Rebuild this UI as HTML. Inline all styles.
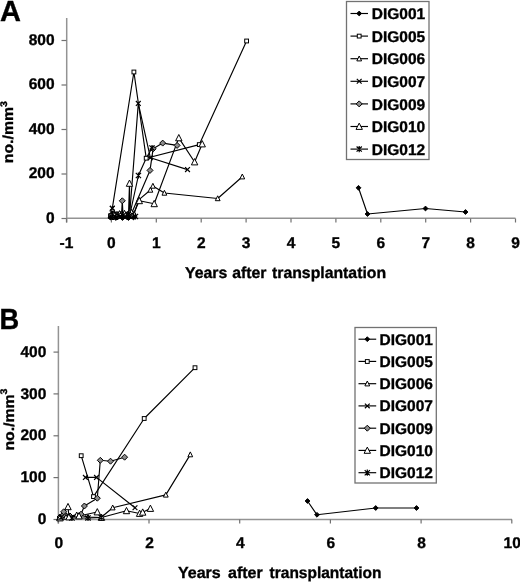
<!DOCTYPE html>
<html><head><meta charset="utf-8"><title>Figure</title>
<style>
html,body{margin:0;padding:0;background:#fff;}
body{width:520px;height:582px;overflow:hidden;}
svg text{stroke:#000;stroke-width:0.35px;}
svg{display:block;text-rendering:geometricPrecision;filter:grayscale(1) blur(0.3px);font-family:"Liberation Sans",sans-serif;font-weight:bold;}
</style></head><body>
<svg width="520" height="582" viewBox="0 0 520 582">
<path d="M66.7 18V222.5M66.7 218.3H515.5" stroke="#939393" stroke-width="1.5" fill="none"/>
<path d="M61.5 218.5H66.5" stroke="#707070" stroke-width="1.2"/>
<text x="54.6" y="222.6" font-size="15.5" text-anchor="end" >0</text>
<path d="M61.5 174.0H66.5" stroke="#707070" stroke-width="1.2"/>
<text x="54.6" y="178.1" font-size="15.5" text-anchor="end" >200</text>
<path d="M61.5 129.5H66.5" stroke="#707070" stroke-width="1.2"/>
<text x="54.6" y="133.6" font-size="15.5" text-anchor="end" >400</text>
<path d="M61.5 85.0H66.5" stroke="#707070" stroke-width="1.2"/>
<text x="54.6" y="89.1" font-size="15.5" text-anchor="end" >600</text>
<path d="M61.5 40.5H66.5" stroke="#707070" stroke-width="1.2"/>
<text x="54.6" y="44.6" font-size="15.5" text-anchor="end" >800</text>
<path d="M66.5 218.5V222.5" stroke="#707070" stroke-width="1.2"/>
<text x="66.5" y="247.8" font-size="15.5" text-anchor="middle" >-1</text>
<path d="M111.4 218.5V222.5" stroke="#707070" stroke-width="1.2"/>
<text x="111.4" y="247.8" font-size="15.5" text-anchor="middle" >0</text>
<path d="M156.3 218.5V222.5" stroke="#707070" stroke-width="1.2"/>
<text x="156.3" y="247.8" font-size="15.5" text-anchor="middle" >1</text>
<path d="M201.2 218.5V222.5" stroke="#707070" stroke-width="1.2"/>
<text x="201.2" y="247.8" font-size="15.5" text-anchor="middle" >2</text>
<path d="M246.1 218.5V222.5" stroke="#707070" stroke-width="1.2"/>
<text x="246.1" y="247.8" font-size="15.5" text-anchor="middle" >3</text>
<path d="M291.0 218.5V222.5" stroke="#707070" stroke-width="1.2"/>
<text x="291.0" y="247.8" font-size="15.5" text-anchor="middle" >4</text>
<path d="M335.9 218.5V222.5" stroke="#707070" stroke-width="1.2"/>
<text x="335.9" y="247.8" font-size="15.5" text-anchor="middle" >5</text>
<path d="M380.8 218.5V222.5" stroke="#707070" stroke-width="1.2"/>
<text x="380.8" y="247.8" font-size="15.5" text-anchor="middle" >6</text>
<path d="M425.7 218.5V222.5" stroke="#707070" stroke-width="1.2"/>
<text x="425.7" y="247.8" font-size="15.5" text-anchor="middle" >7</text>
<path d="M470.6 218.5V222.5" stroke="#707070" stroke-width="1.2"/>
<text x="470.6" y="247.8" font-size="15.5" text-anchor="middle" >8</text>
<path d="M515.5 218.5V222.5" stroke="#707070" stroke-width="1.2"/>
<text x="515.5" y="247.8" font-size="15.5" text-anchor="middle" >9</text>
<text x="0" y="21" font-size="29" text-anchor="start" >A</text>
<text x="185" y="277.8" font-size="15.8" text-anchor="start" >Years</text>
<text x="232.2" y="277.8" font-size="15.8" text-anchor="start" >after</text>
<text x="272" y="277.8" font-size="15.8" text-anchor="start" >transplantation</text>
<text transform="translate(13.3,163.2) rotate(-90) scale(1,0.92)" font-size="15.8">no./mm<tspan font-size="10.5" dy="-6.6">3</tspan></text>
<path d="M358.5 187.8 L367.5 214.0 L425.5 208.5 L465.5 212.0" fill="none" stroke="#000" stroke-width="1.15" stroke-linejoin="round"/>
<path d="M110.5 216.5 L112.3 208.3 L133.9 72.0 L146.2 158.2 L199.3 144.6 L246.6 41.0" fill="none" stroke="#000" stroke-width="1.15" stroke-linejoin="round"/>
<path d="M112.0 217.0 L118.0 216.0 L124.0 215.5 L128.0 216.0 L133.9 214.2 L138.7 199.9 L150.4 190.0 L152.9 186.0 L164.4 193.0 L217.7 198.5 L242.3 176.7" fill="none" stroke="#000" stroke-width="1.15" stroke-linejoin="round"/>
<path d="M111.0 216.0 L120.0 216.5 L129.7 214.0 L138.3 103.4 L150.4 157.8 L187.5 169.6" fill="none" stroke="#000" stroke-width="1.15" stroke-linejoin="round"/>
<path d="M113.0 217.0 L121.5 215.0 L122.3 200.8 L123.0 215.0 L127.0 216.0 L131.5 213.5 L150.0 170.4 L153.1 148.8 L162.7 143.1 L177.1 145.4" fill="none" stroke="#000" stroke-width="1.15" stroke-linejoin="round"/>
<path d="M115.0 216.0 L121.0 214.5 L128.5 215.0 L129.5 183.4 L129.8 213.0 L133.0 215.0 L139.3 200.8 L154.2 203.8 L178.8 137.9 L194.6 162.0 L202.2 144.0" fill="none" stroke="#000" stroke-width="1.15" stroke-linejoin="round"/>
<path d="M113.0 216.5 L117.0 214.0 L125.0 215.5 L130.0 214.0 L138.4 175.5 L146.2 158.2 L152.0 148.0" fill="none" stroke="#000" stroke-width="1.15" stroke-linejoin="round"/>
<path d="M358.5 185.4L360.9 187.8L358.5 190.2L356.1 187.8Z" fill="#000" stroke="#000" stroke-width="1"/>
<path d="M367.5 211.6L369.9 214.0L367.5 216.4L365.1 214.0Z" fill="#000" stroke="#000" stroke-width="1"/>
<path d="M425.5 206.1L427.9 208.5L425.5 210.9L423.1 208.5Z" fill="#000" stroke="#000" stroke-width="1"/>
<path d="M465.5 209.6L467.9 212.0L465.5 214.4L463.1 212.0Z" fill="#000" stroke="#000" stroke-width="1"/>
<rect x="108.6" y="214.6" width="3.8" height="3.8" fill="#fff" stroke="#000" stroke-width="1"/>
<path d="M109.9 205.9L114.7 210.7M114.7 205.9L109.9 210.7" stroke="#000" stroke-width="1.2"/>
<rect x="132.0" y="70.1" width="3.8" height="3.8" fill="#fff" stroke="#000" stroke-width="1"/>
<rect x="144.3" y="156.3" width="3.8" height="3.8" fill="#fff" stroke="#000" stroke-width="1"/>
<rect x="197.4" y="142.7" width="3.8" height="3.8" fill="#fff" stroke="#000" stroke-width="1"/>
<rect x="244.7" y="39.1" width="3.8" height="3.8" fill="#fff" stroke="#000" stroke-width="1"/>
<path d="M112.0 214.3L114.4 219.2L109.6 219.2Z" fill="#fff" stroke="#000" stroke-width="1"/>
<path d="M118.0 213.3L120.4 218.2L115.6 218.2Z" fill="#fff" stroke="#000" stroke-width="1"/>
<path d="M124.0 212.8L126.4 217.7L121.6 217.7Z" fill="#fff" stroke="#000" stroke-width="1"/>
<path d="M128.0 213.3L130.4 218.2L125.6 218.2Z" fill="#fff" stroke="#000" stroke-width="1"/>
<path d="M133.9 211.5L136.3 216.4L131.5 216.4Z" fill="#fff" stroke="#000" stroke-width="1"/>
<path d="M138.7 197.2L141.1 202.1L136.3 202.1Z" fill="#fff" stroke="#000" stroke-width="1"/>
<path d="M150.4 187.3L152.8 192.2L148.0 192.2Z" fill="#fff" stroke="#000" stroke-width="1"/>
<path d="M152.9 183.3L155.3 188.2L150.5 188.2Z" fill="#fff" stroke="#000" stroke-width="1"/>
<path d="M164.4 190.3L166.8 195.2L162.0 195.2Z" fill="#fff" stroke="#000" stroke-width="1"/>
<path d="M217.7 195.8L220.1 200.7L215.3 200.7Z" fill="#fff" stroke="#000" stroke-width="1"/>
<path d="M242.3 174.0L244.7 178.9L239.9 178.9Z" fill="#fff" stroke="#000" stroke-width="1"/>
<path d="M108.6 213.6L113.4 218.4M113.4 213.6L108.6 218.4" stroke="#000" stroke-width="1.2"/>
<path d="M117.6 214.1L122.4 218.9M122.4 214.1L117.6 218.9" stroke="#000" stroke-width="1.2"/>
<path d="M127.3 211.6L132.1 216.4M132.1 211.6L127.3 216.4" stroke="#000" stroke-width="1.2"/>
<path d="M135.9 101.0L140.7 105.8M140.7 101.0L135.9 105.8" stroke="#000" stroke-width="1.2"/>
<path d="M148.0 155.4L152.8 160.2M152.8 155.4L148.0 160.2" stroke="#000" stroke-width="1.2"/>
<path d="M185.1 167.2L189.9 172.0M189.9 167.2L185.1 172.0" stroke="#000" stroke-width="1.2"/>
<path d="M113.0 214.0L116.0 217.0L113.0 220.0L110.0 217.0Z" fill="#8c8c8c" stroke="#000" stroke-width="1"/>
<path d="M121.5 212.0L124.5 215.0L121.5 218.0L118.5 215.0Z" fill="#8c8c8c" stroke="#000" stroke-width="1"/>
<path d="M122.3 197.8L125.3 200.8L122.3 203.8L119.3 200.8Z" fill="#8c8c8c" stroke="#000" stroke-width="1"/>
<path d="M123.0 212.0L126.0 215.0L123.0 218.0L120.0 215.0Z" fill="#8c8c8c" stroke="#000" stroke-width="1"/>
<path d="M127.0 213.0L130.0 216.0L127.0 219.0L124.0 216.0Z" fill="#8c8c8c" stroke="#000" stroke-width="1"/>
<path d="M131.5 210.5L134.5 213.5L131.5 216.5L128.5 213.5Z" fill="#8c8c8c" stroke="#000" stroke-width="1"/>
<path d="M150.0 167.4L153.0 170.4L150.0 173.4L147.0 170.4Z" fill="#8c8c8c" stroke="#000" stroke-width="1"/>
<path d="M153.1 145.8L156.1 148.8L153.1 151.8L150.1 148.8Z" fill="#8c8c8c" stroke="#000" stroke-width="1"/>
<path d="M162.7 140.1L165.7 143.1L162.7 146.1L159.7 143.1Z" fill="#8c8c8c" stroke="#000" stroke-width="1"/>
<path d="M177.1 142.4L180.1 145.4L177.1 148.4L174.1 145.4Z" fill="#8c8c8c" stroke="#000" stroke-width="1"/>
<path d="M115.0 212.6L118.2 218.9L111.8 218.9Z" fill="#fff" stroke="#000" stroke-width="1"/>
<path d="M121.0 211.1L124.2 217.4L117.8 217.4Z" fill="#fff" stroke="#000" stroke-width="1"/>
<path d="M128.5 211.6L131.7 217.9L125.3 217.9Z" fill="#fff" stroke="#000" stroke-width="1"/>
<path d="M129.5 180.0L132.7 186.3L126.3 186.3Z" fill="#fff" stroke="#000" stroke-width="1"/>
<path d="M129.8 209.6L133.0 215.9L126.6 215.9Z" fill="#fff" stroke="#000" stroke-width="1"/>
<path d="M133.0 211.6L136.2 217.9L129.8 217.9Z" fill="#fff" stroke="#000" stroke-width="1"/>
<path d="M139.3 197.4L142.5 203.7L136.1 203.7Z" fill="#fff" stroke="#000" stroke-width="1"/>
<path d="M154.2 200.4L157.4 206.7L151.0 206.7Z" fill="#fff" stroke="#000" stroke-width="1"/>
<path d="M178.8 134.5L182.0 140.8L175.6 140.8Z" fill="#fff" stroke="#000" stroke-width="1"/>
<path d="M194.6 158.6L197.8 164.9L191.4 164.9Z" fill="#fff" stroke="#000" stroke-width="1"/>
<path d="M202.2 140.6L205.4 146.9L199.0 146.9Z" fill="#fff" stroke="#000" stroke-width="1"/>
<path d="M110.4 213.9L115.6 219.1M115.6 213.9L110.4 219.1M113.0 213.4L113.0 219.6" stroke="#000" stroke-width="1.2"/>
<path d="M114.4 211.4L119.6 216.6M119.6 211.4L114.4 216.6M117.0 210.9L117.0 217.1" stroke="#000" stroke-width="1.2"/>
<path d="M122.4 212.9L127.6 218.1M127.6 212.9L122.4 218.1M125.0 212.4L125.0 218.6" stroke="#000" stroke-width="1.2"/>
<path d="M127.4 211.4L132.6 216.6M132.6 211.4L127.4 216.6M130.0 210.9L130.0 217.1" stroke="#000" stroke-width="1.2"/>
<path d="M135.8 172.9L141.0 178.1M141.0 172.9L135.8 178.1M138.4 172.4L138.4 178.6" stroke="#000" stroke-width="1.2"/>
<path d="M149.4 145.4L154.6 150.6M154.6 145.4L149.4 150.6M152.0 144.9L152.0 151.1" stroke="#000" stroke-width="1.2"/>
<rect x="109.1" y="213.6" width="3.8" height="3.8" fill="#fff" stroke="#000" stroke-width="1"/>
<rect x="114.6" y="213.1" width="3.8" height="3.8" fill="#fff" stroke="#000" stroke-width="1"/>
<rect x="119.1" y="214.1" width="3.8" height="3.8" fill="#fff" stroke="#000" stroke-width="1"/>
<rect x="124.1" y="213.6" width="3.8" height="3.8" fill="#fff" stroke="#000" stroke-width="1"/>
<path d="M113.5 210.8L115.9 215.7L111.1 215.7Z" fill="#fff" stroke="#000" stroke-width="1"/>
<path d="M119.5 210.6L121.9 215.5L117.1 215.5Z" fill="#fff" stroke="#000" stroke-width="1"/>
<path d="M124.5 210.3L126.9 215.2L122.1 215.2Z" fill="#fff" stroke="#000" stroke-width="1"/>
<path d="M131.5 209.3L133.9 214.2L129.1 214.2Z" fill="#fff" stroke="#000" stroke-width="1"/>
<path d="M134.5 211.8L136.9 216.7L132.1 216.7Z" fill="#fff" stroke="#000" stroke-width="1"/>
<path d="M111.5 213.0L114.5 216.0L111.5 219.0L108.5 216.0Z" fill="#8c8c8c" stroke="#000" stroke-width="1"/>
<path d="M117.0 214.0L120.0 217.0L117.0 220.0L114.0 217.0Z" fill="#8c8c8c" stroke="#000" stroke-width="1"/>
<path d="M127.5 214.0L130.5 217.0L127.5 220.0L124.5 217.0Z" fill="#8c8c8c" stroke="#000" stroke-width="1"/>
<path d="M132.0 213.0L135.0 216.0L132.0 219.0L129.0 216.0Z" fill="#8c8c8c" stroke="#000" stroke-width="1"/>
<path d="M112.1 214.1L116.9 218.9M116.9 214.1L112.1 218.9" stroke="#000" stroke-width="1.2"/>
<path d="M117.6 214.6L122.4 219.4M122.4 214.6L117.6 219.4" stroke="#000" stroke-width="1.2"/>
<path d="M122.6 214.6L127.4 219.4M127.4 214.6L122.6 219.4" stroke="#000" stroke-width="1.2"/>
<path d="M127.6 214.1L132.4 218.9M132.4 214.1L127.6 218.9" stroke="#000" stroke-width="1.2"/>
<path d="M109.9 205.9L114.7 210.7M114.7 205.9L109.9 210.7" stroke="#000" stroke-width="1.2"/>
<path d="M110.5 215.1L112.9 217.5L110.5 219.9L108.1 217.5Z" fill="#000" stroke="#000" stroke-width="1"/>
<path d="M116.0 215.6L118.4 218.0L116.0 220.4L113.6 218.0Z" fill="#000" stroke="#000" stroke-width="1"/>
<path d="M122.5 215.6L124.9 218.0L122.5 220.4L120.1 218.0Z" fill="#000" stroke="#000" stroke-width="1"/>
<path d="M128.5 215.6L130.9 218.0L128.5 220.4L126.1 218.0Z" fill="#000" stroke="#000" stroke-width="1"/>
<path d="M133.5 215.1L135.9 217.5L133.5 219.9L131.1 217.5Z" fill="#000" stroke="#000" stroke-width="1"/>
<path d="M109.9 211.4L115.1 216.6M115.1 211.4L109.9 216.6M112.5 210.9L112.5 217.1" stroke="#000" stroke-width="1.2"/>
<path d="M115.4 212.9L120.6 218.1M120.6 212.9L115.4 218.1M118.0 212.4L118.0 218.6" stroke="#000" stroke-width="1.2"/>
<path d="M120.4 212.9L125.6 218.1M125.6 212.9L120.4 218.1M123.0 212.4L123.0 218.6" stroke="#000" stroke-width="1.2"/>
<path d="M125.9 211.9L131.1 217.1M131.1 211.9L125.9 217.1M128.5 211.4L128.5 217.6" stroke="#000" stroke-width="1.2"/>
<path d="M132.9 213.9L138.1 219.1M138.1 213.9L132.9 219.1M135.5 213.4L135.5 219.6" stroke="#000" stroke-width="1.2"/>
<rect x="346.5" y="1.5" width="82.5" height="158" fill="#fff" stroke="#727272" stroke-width="1.3"/>
<path d="M350.5 13.5H368" stroke="#000" stroke-width="1.15"/>
<path d="M359.2 11.1L361.6 13.5L359.2 15.9L356.8 13.5Z" fill="#000" stroke="#000" stroke-width="1"/>
<text x="371.8" y="19.2" font-size="15.5" text-anchor="start" >DIG001</text>
<path d="M350.5 36.1H368" stroke="#000" stroke-width="1.15"/>
<rect x="357.3" y="34.2" width="3.8" height="3.8" fill="#fff" stroke="#000" stroke-width="1"/>
<text x="371.8" y="41.8" font-size="15.5" text-anchor="start" >DIG005</text>
<path d="M350.5 58.7H368" stroke="#000" stroke-width="1.15"/>
<path d="M359.2 56.0L361.6 60.9L356.8 60.9Z" fill="#fff" stroke="#000" stroke-width="1"/>
<text x="371.8" y="64.4" font-size="15.5" text-anchor="start" >DIG006</text>
<path d="M350.5 81.3H368" stroke="#000" stroke-width="1.15"/>
<path d="M356.8 78.9L361.6 83.7M361.6 78.9L356.8 83.7" stroke="#000" stroke-width="1.2"/>
<text x="371.8" y="87.0" font-size="15.5" text-anchor="start" >DIG007</text>
<path d="M350.5 103.9H368" stroke="#000" stroke-width="1.15"/>
<path d="M359.2 100.9L362.2 103.9L359.2 106.9L356.2 103.9Z" fill="#8c8c8c" stroke="#000" stroke-width="1"/>
<text x="371.8" y="109.6" font-size="15.5" text-anchor="start" >DIG009</text>
<path d="M350.5 126.5H368" stroke="#000" stroke-width="1.15"/>
<path d="M359.2 123.1L362.4 129.4L356.0 129.4Z" fill="#fff" stroke="#000" stroke-width="1"/>
<text x="371.8" y="132.2" font-size="15.5" text-anchor="start" >DIG010</text>
<path d="M350.5 149.1H368" stroke="#000" stroke-width="1.15"/>
<path d="M356.6 146.5L361.8 151.7M361.8 146.5L356.6 151.7M359.2 146.0L359.2 152.2" stroke="#000" stroke-width="1.2"/>
<text x="371.8" y="154.8" font-size="15.5" text-anchor="start" >DIG012</text>
<path d="M58.4 326V523.5M58.4 519.4H512" stroke="#939393" stroke-width="1.5" fill="none"/>
<path d="M53.5 519.5H58.5" stroke="#707070" stroke-width="1.2"/>
<text x="46.3" y="524.1" font-size="15.5" text-anchor="end" >0</text>
<path d="M53.5 477.6H58.5" stroke="#707070" stroke-width="1.2"/>
<text x="46.3" y="482.2" font-size="15.5" text-anchor="end" >100</text>
<path d="M53.5 435.8H58.5" stroke="#707070" stroke-width="1.2"/>
<text x="46.3" y="440.4" font-size="15.5" text-anchor="end" >200</text>
<path d="M53.5 393.9H58.5" stroke="#707070" stroke-width="1.2"/>
<text x="46.3" y="398.6" font-size="15.5" text-anchor="end" >300</text>
<path d="M53.5 352.1H58.5" stroke="#707070" stroke-width="1.2"/>
<text x="46.3" y="356.7" font-size="15.5" text-anchor="end" >400</text>
<path d="M58.3 519.5V523.5" stroke="#707070" stroke-width="1.2"/>
<text x="58.8" y="548.0" font-size="15.5" text-anchor="middle" >0</text>
<path d="M149.0 519.5V523.5" stroke="#707070" stroke-width="1.2"/>
<text x="149.5" y="548.0" font-size="15.5" text-anchor="middle" >2</text>
<path d="M239.7 519.5V523.5" stroke="#707070" stroke-width="1.2"/>
<text x="240.2" y="548.0" font-size="15.5" text-anchor="middle" >4</text>
<path d="M330.4 519.5V523.5" stroke="#707070" stroke-width="1.2"/>
<text x="330.9" y="548.0" font-size="15.5" text-anchor="middle" >6</text>
<path d="M421.1 519.5V523.5" stroke="#707070" stroke-width="1.2"/>
<text x="421.6" y="548.0" font-size="15.5" text-anchor="middle" >8</text>
<path d="M511.8 519.5V523.5" stroke="#707070" stroke-width="1.2"/>
<text x="512.2" y="548.0" font-size="15.5" text-anchor="middle" >10</text>
<text transform="translate(-0.5,329) scale(0.94,1)" font-size="29">B</text>
<text x="178" y="578" font-size="16" text-anchor="start" >Years</text>
<text x="228" y="578" font-size="16" text-anchor="start" >after</text>
<text transform="translate(269.6,578) scale(0.968,1)" font-size="16">transplantation</text>
<text transform="translate(13.5,450.6) rotate(-90) scale(1,0.92)" font-size="15.8">no./mm<tspan font-size="10.5" dy="-6.6">3</tspan></text>
<path d="M307.5 501.0 L317.0 514.8 L375.7 508.0 L416.5 508.0" fill="none" stroke="#000" stroke-width="1.15" stroke-linejoin="round"/>
<path d="M81.2 455.7 L93.5 496.6 L144.2 418.5 L195.0 367.7" fill="none" stroke="#000" stroke-width="1.15" stroke-linejoin="round"/>
<path d="M59.0 518.0 L66.0 517.0 L76.7 514.7 L88.0 517.0 L101.0 517.5 L112.7 507.7 L165.8 494.9 L190.3 454.6" fill="none" stroke="#000" stroke-width="1.15" stroke-linejoin="round"/>
<path d="M85.4 477.4 L96.5 477.4 L135.0 507.7" fill="none" stroke="#000" stroke-width="1.15" stroke-linejoin="round"/>
<path d="M60.0 517.0 L62.7 515.2 L63.7 511.8 L70.0 516.0 L81.0 514.2 L84.4 506.0 L97.3 498.2 L100.3 460.3 L110.5 461.2 L124.6 457.2" fill="none" stroke="#000" stroke-width="1.15" stroke-linejoin="round"/>
<path d="M60.0 518.0 L68.0 506.8 L69.0 517.0 L79.0 516.0 L97.3 512.0 L101.5 517.5 L126.5 510.8 L139.6 513.5 L142.7 512.3 L150.4 508.5" fill="none" stroke="#000" stroke-width="1.15" stroke-linejoin="round"/>
<path d="M61.0 517.5 L72.0 518.0 L88.0 518.0 L101.2 517.5" fill="none" stroke="#000" stroke-width="1.15" stroke-linejoin="round"/>
<path d="M307.5 498.6L309.9 501.0L307.5 503.4L305.1 501.0Z" fill="#000" stroke="#000" stroke-width="1"/>
<path d="M317.0 512.4L319.4 514.8L317.0 517.2L314.6 514.8Z" fill="#000" stroke="#000" stroke-width="1"/>
<path d="M375.7 505.6L378.1 508.0L375.7 510.4L373.3 508.0Z" fill="#000" stroke="#000" stroke-width="1"/>
<path d="M416.5 505.6L418.9 508.0L416.5 510.4L414.1 508.0Z" fill="#000" stroke="#000" stroke-width="1"/>
<rect x="79.3" y="453.8" width="3.8" height="3.8" fill="#fff" stroke="#000" stroke-width="1"/>
<rect x="91.6" y="494.7" width="3.8" height="3.8" fill="#fff" stroke="#000" stroke-width="1"/>
<rect x="142.3" y="416.6" width="3.8" height="3.8" fill="#fff" stroke="#000" stroke-width="1"/>
<rect x="193.1" y="365.8" width="3.8" height="3.8" fill="#fff" stroke="#000" stroke-width="1"/>
<path d="M59.0 515.3L61.4 520.2L56.6 520.2Z" fill="#fff" stroke="#000" stroke-width="1"/>
<path d="M66.0 514.3L68.4 519.2L63.6 519.2Z" fill="#fff" stroke="#000" stroke-width="1"/>
<path d="M76.7 512.0L79.1 516.9L74.3 516.9Z" fill="#fff" stroke="#000" stroke-width="1"/>
<path d="M88.0 514.3L90.4 519.2L85.6 519.2Z" fill="#fff" stroke="#000" stroke-width="1"/>
<path d="M101.0 514.8L103.4 519.7L98.6 519.7Z" fill="#fff" stroke="#000" stroke-width="1"/>
<path d="M112.7 505.0L115.1 509.9L110.3 509.9Z" fill="#fff" stroke="#000" stroke-width="1"/>
<path d="M165.8 492.2L168.2 497.1L163.4 497.1Z" fill="#fff" stroke="#000" stroke-width="1"/>
<path d="M190.3 451.9L192.7 456.8L187.9 456.8Z" fill="#fff" stroke="#000" stroke-width="1"/>
<path d="M83.0 475.0L87.8 479.8M87.8 475.0L83.0 479.8" stroke="#000" stroke-width="1.2"/>
<path d="M94.1 475.0L98.9 479.8M98.9 475.0L94.1 479.8" stroke="#000" stroke-width="1.2"/>
<path d="M132.6 505.3L137.4 510.1M137.4 505.3L132.6 510.1" stroke="#000" stroke-width="1.2"/>
<path d="M60.0 514.0L63.0 517.0L60.0 520.0L57.0 517.0Z" fill="#8c8c8c" stroke="#000" stroke-width="1"/>
<path d="M62.7 512.2L65.7 515.2L62.7 518.2L59.7 515.2Z" fill="#8c8c8c" stroke="#000" stroke-width="1"/>
<path d="M63.7 508.8L66.7 511.8L63.7 514.8L60.7 511.8Z" fill="#8c8c8c" stroke="#000" stroke-width="1"/>
<path d="M70.0 513.0L73.0 516.0L70.0 519.0L67.0 516.0Z" fill="#8c8c8c" stroke="#000" stroke-width="1"/>
<path d="M81.0 511.2L84.0 514.2L81.0 517.2L78.0 514.2Z" fill="#8c8c8c" stroke="#000" stroke-width="1"/>
<path d="M84.4 503.0L87.4 506.0L84.4 509.0L81.4 506.0Z" fill="#8c8c8c" stroke="#000" stroke-width="1"/>
<path d="M97.3 495.2L100.3 498.2L97.3 501.2L94.3 498.2Z" fill="#8c8c8c" stroke="#000" stroke-width="1"/>
<path d="M100.3 457.3L103.3 460.3L100.3 463.3L97.3 460.3Z" fill="#8c8c8c" stroke="#000" stroke-width="1"/>
<path d="M110.5 458.2L113.5 461.2L110.5 464.2L107.5 461.2Z" fill="#8c8c8c" stroke="#000" stroke-width="1"/>
<path d="M124.6 454.2L127.6 457.2L124.6 460.2L121.6 457.2Z" fill="#8c8c8c" stroke="#000" stroke-width="1"/>
<path d="M60.0 514.6L63.2 520.9L56.8 520.9Z" fill="#fff" stroke="#000" stroke-width="1"/>
<path d="M68.0 503.4L71.2 509.7L64.8 509.7Z" fill="#fff" stroke="#000" stroke-width="1"/>
<path d="M69.0 513.6L72.2 519.9L65.8 519.9Z" fill="#fff" stroke="#000" stroke-width="1"/>
<path d="M79.0 512.6L82.2 518.9L75.8 518.9Z" fill="#fff" stroke="#000" stroke-width="1"/>
<path d="M97.3 508.6L100.5 514.9L94.1 514.9Z" fill="#fff" stroke="#000" stroke-width="1"/>
<path d="M101.5 514.1L104.7 520.4L98.3 520.4Z" fill="#fff" stroke="#000" stroke-width="1"/>
<path d="M126.5 507.4L129.7 513.7L123.3 513.7Z" fill="#fff" stroke="#000" stroke-width="1"/>
<path d="M139.6 510.1L142.8 516.4L136.4 516.4Z" fill="#fff" stroke="#000" stroke-width="1"/>
<path d="M142.7 508.9L145.9 515.2L139.5 515.2Z" fill="#fff" stroke="#000" stroke-width="1"/>
<path d="M150.4 505.1L153.6 511.4L147.2 511.4Z" fill="#fff" stroke="#000" stroke-width="1"/>
<path d="M58.4 514.9L63.6 520.1M63.6 514.9L58.4 520.1M61.0 514.4L61.0 520.6" stroke="#000" stroke-width="1.2"/>
<path d="M69.4 515.4L74.6 520.6M74.6 515.4L69.4 520.6M72.0 514.9L72.0 521.1" stroke="#000" stroke-width="1.2"/>
<path d="M85.4 515.4L90.6 520.6M90.6 515.4L85.4 520.6M88.0 514.9L88.0 521.1" stroke="#000" stroke-width="1.2"/>
<path d="M98.6 514.9L103.8 520.1M103.8 514.9L98.6 520.1M101.2 514.4L101.2 520.6" stroke="#000" stroke-width="1.2"/>
<rect x="355" y="327.5" width="81.3" height="155.5" fill="#fff" stroke="#727272" stroke-width="1.3"/>
<path d="M358.5 339.2H376.2" stroke="#000" stroke-width="1.15"/>
<path d="M367.3 336.8L369.7 339.2L367.3 341.6L364.9 339.2Z" fill="#000" stroke="#000" stroke-width="1"/>
<text x="379.5" y="344.7" font-size="15.5" text-anchor="start" >DIG001</text>
<path d="M358.5 361.4H376.2" stroke="#000" stroke-width="1.15"/>
<rect x="365.4" y="359.6" width="3.8" height="3.8" fill="#fff" stroke="#000" stroke-width="1"/>
<text x="379.5" y="366.9" font-size="15.5" text-anchor="start" >DIG005</text>
<path d="M358.5 383.7H376.2" stroke="#000" stroke-width="1.15"/>
<path d="M367.3 381.0L369.7 385.9L364.9 385.9Z" fill="#fff" stroke="#000" stroke-width="1"/>
<text x="379.5" y="389.2" font-size="15.5" text-anchor="start" >DIG006</text>
<path d="M358.5 405.9H376.2" stroke="#000" stroke-width="1.15"/>
<path d="M364.9 403.6L369.7 408.3M369.7 403.6L364.9 408.3" stroke="#000" stroke-width="1.2"/>
<text x="379.5" y="411.4" font-size="15.5" text-anchor="start" >DIG007</text>
<path d="M358.5 428.2H376.2" stroke="#000" stroke-width="1.15"/>
<path d="M367.3 425.2L370.3 428.2L367.3 431.2L364.3 428.2Z" fill="#8c8c8c" stroke="#000" stroke-width="1"/>
<text x="379.5" y="433.7" font-size="15.5" text-anchor="start" >DIG009</text>
<path d="M358.5 450.4H376.2" stroke="#000" stroke-width="1.15"/>
<path d="M367.3 447.1L370.5 453.3L364.1 453.3Z" fill="#fff" stroke="#000" stroke-width="1"/>
<text x="379.5" y="455.9" font-size="15.5" text-anchor="start" >DIG010</text>
<path d="M358.5 472.7H376.2" stroke="#000" stroke-width="1.15"/>
<path d="M364.7 470.1L369.9 475.3M369.9 470.1L364.7 475.3M367.3 469.6L367.3 475.8" stroke="#000" stroke-width="1.2"/>
<text x="379.5" y="478.2" font-size="15.5" text-anchor="start" >DIG012</text>
</svg>
</body></html>
